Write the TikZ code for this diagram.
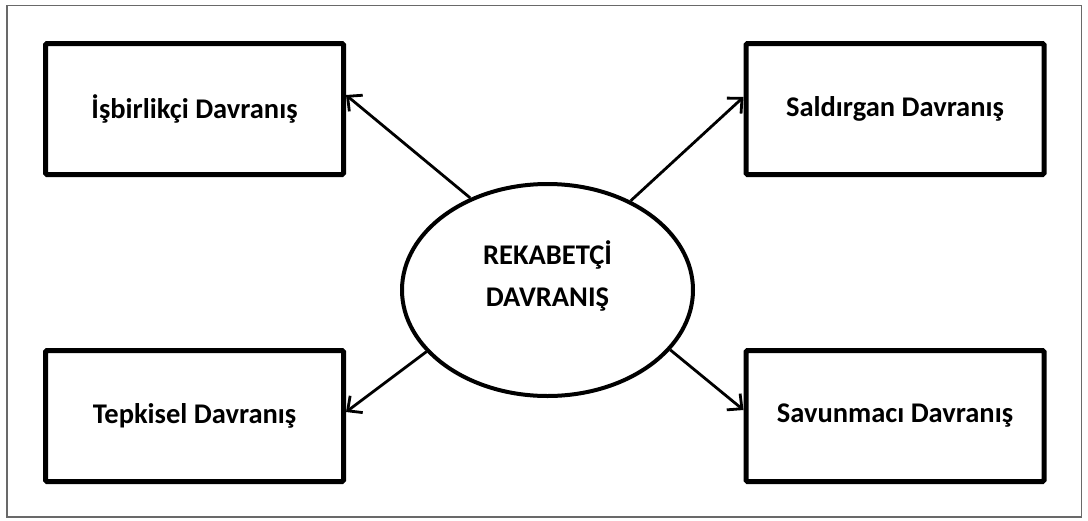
\documentclass[tikz,border=0pt]{standalone}
\usepackage{fontspec}
\setmainfont{Carlito}
\usetikzlibrary{arrows.meta,shapes.geometric}
\definecolor{framegray}{RGB}{105,105,105}
\begin{document}
\begin{tikzpicture}[x=1pt,y=-1pt,
  box/.style={draw=black, line width=5pt, rounded corners=1.5pt,
    minimum width=298pt, minimum height=131pt, inner sep=0pt,
    font=\fontsize{28.5}{34}\selectfont\bfseries},
  oval/.style={draw=black, ellipse, line width=4pt, inner sep=0pt,
    minimum width=291pt, minimum height=212pt},
  ovaltext/.style={align=center, inner sep=0pt,
    font=\fontsize{28.5}{42}\selectfont\bfseries},
  arr/.style={line width=2.8pt, -{Straight Barb[length=11pt,width=21pt]}}]
\useasboundingbox (0,0) rectangle (1088,520);
\draw[line width=1.5pt, draw=framegray] (7,5.5) rectangle (1081.5,517);
\node[box] (tl) at (194.5,109) {İşbirlikçi Davranış};
\node[box] (tr) at (895,109) {Saldırgan Davranış};
\node[box] (bl) at (194.5,416) {Tepkisel Davranış};
\node[box] (br) at (895,416) {Savunmacı Davranış};
\node[oval] (e) at (547.5,290) {};
\node[ovaltext] (et) at ([yshift=14pt]e.center) {REKABETÇİ\\DAVRANIŞ};
\draw[arr] (e.130) -- ([yshift=14pt]tl.east);
\draw[arr] (e.47) -- ([yshift=12pt]tr.west);
\draw[arr] (e.207) -- ([yshift=4pt]bl.east);
\draw[arr] (e.334) -- ([yshift=6pt]br.west);
\end{tikzpicture}
\end{document}
